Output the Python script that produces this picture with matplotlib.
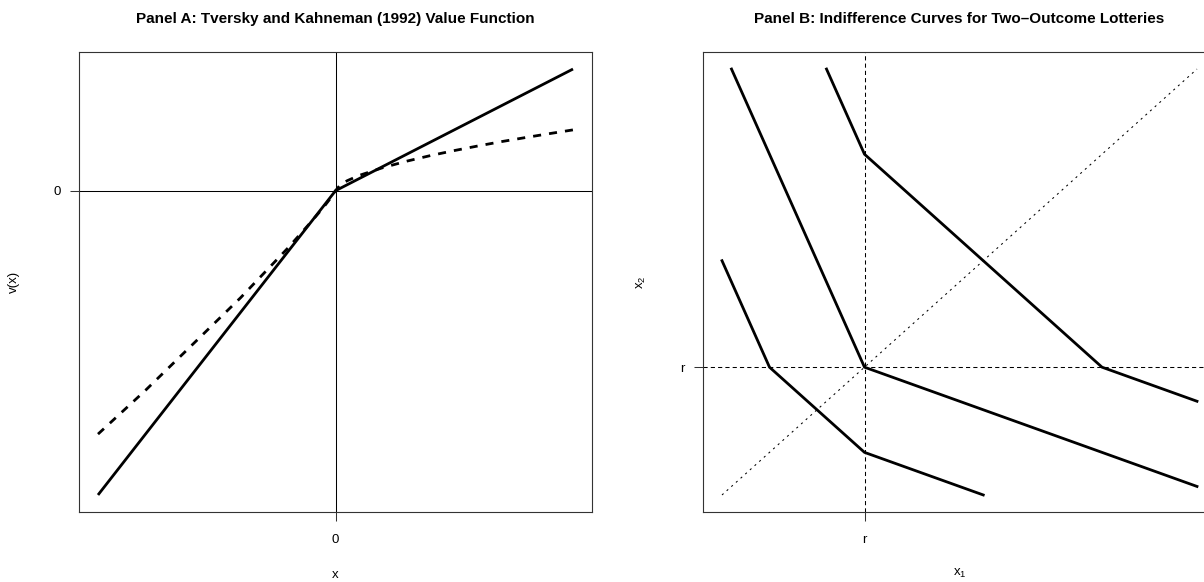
import numpy as np
import matplotlib
matplotlib.use("Agg")
import matplotlib.pyplot as plt

plt.rcParams['font.family'] = ['Liberation Sans', 'DejaVu Sans']
plt.rcParams['mathtext.fontset'] = 'custom'
plt.rcParams['mathtext.rm'] = 'Liberation Sans'
plt.rcParams['mathtext.it'] = 'Liberation Sans'
plt.rcParams['mathtext.default'] = 'regular'

# Panel A: piecewise-linear value function and the curved TK version
lin_x = [-1.0, 0.0, 1.0]
lin_v = [-2.5, 0.0, 1.0]
tk_x = [-1.0, -0.8, -0.6, -0.4, -0.2, -0.1, -0.05, -0.02, 0.0,
        0.02, 0.05, 0.1, 0.2, 0.3, 0.4, 0.5, 0.6, 0.7, 0.8, 0.9, 1.0]
tk_v = [-2.0, -1.64, -1.26, -0.88, -0.47, -0.25, -0.135, -0.059, 0.0,
        0.048, 0.083, 0.126, 0.19, 0.243, 0.289, 0.33, 0.368, 0.404, 0.437, 0.469, 0.5]

# Panel B: indifference curves around reference point r
r = 3.0
curve1_x = [0.0, 1.0, 3.0, 5.5]
curve1_y = [5.5, 3.0, 1.0, 0.0]
curve2_x = [0.2, 3.0, 10.0]
curve2_y = [10.0, 3.0, 0.2]
curve3_x = [2.2, 3.0, 8.0, 10.0]
curve3_y = [10.0, 8.0, 3.0, 2.2]
diag = [0.0, 10.0]

W, H = 1204, 582
fig = plt.figure(figsize=(W / 100, H / 100), dpi=100)

def box(left, top, right, bottom):
    return [left / W, 1 - bottom / H, (right - left) / W, (bottom - top) / H]

axA = fig.add_axes(box(79, 52, 592, 512))
axB = fig.add_axes(box(703, 52, 1216, 512))

def pad_lim(vals, frac=0.04):
    lo, hi = np.min(vals), np.max(vals)
    d = (hi - lo) * frac
    return lo - d, hi + d

FS = 9.5
LW = 2.0

def style(ax):
    for s in ax.spines.values():
        s.set_color('#333333')
        s.set_linewidth(0.8)
    ax.tick_params(direction='out', length=6.5, width=0.75, color='#333333',
                   labelsize=FS, pad=6.5)
    ax.tick_params(axis='x', pad=9)

# ---- Panel A ----
axA.axhline(0, color='black', lw=0.75)
axA.axvline(0, color='black', lw=0.75)
axA.plot(lin_x, lin_v, color='black', lw=LW, solid_capstyle='butt')
axA.plot(tk_x, tk_v, color='black', lw=LW, dashes=(2.9, 2.9))
axA.set_xlim(pad_lim(lin_x + tk_x))
axA.set_ylim(pad_lim(lin_v + tk_v))
axA.set_xticks([0])
axA.set_xticklabels(['0'])
axA.set_yticks([0])
axA.set_yticklabels(['0'])
style(axA)
axA.text(0.5, 1 + (52 - 19) / 460, 'Panel A: Tversky and Kahneman (1992) Value Function',
         transform=axA.transAxes, ha='center', va='center', fontsize=11, fontweight='bold')
axA.text(0.5, (512 - 575) / 460, 'x', transform=axA.transAxes,
         ha='center', va='center', fontsize=FS)
axA.text((14 - 79) / 513, 0.5, 'v(x)', transform=axA.transAxes,
         ha='center', va='center', rotation=90, fontsize=FS)

# ---- Panel B ----
axB.axvline(r, color='black', lw=0.75, dashes=(4, 3))
axB.axhline(r, color='black', lw=0.75, dashes=(4, 3))
axB.plot(diag, diag, color='black', lw=0.75, dashes=(2, 4))
for cx, cy in [(curve1_x, curve1_y), (curve2_x, curve2_y), (curve3_x, curve3_y)]:
    axB.plot(cx, cy, color='black', lw=LW)
axB.set_xlim(pad_lim(diag))
axB.set_ylim(pad_lim(diag))
axB.set_xticks([r])
axB.set_xticklabels(['r'])
axB.set_yticks([r])
axB.set_yticklabels(['r'])
style(axB)
axB.text(0.5, 1 + (52 - 19) / 460, 'Panel B: Indifference Curves for Two\u2013Outcome Lotteries',
         transform=axB.transAxes, ha='center', va='center', fontsize=11, fontweight='bold')
axB.text(0.5, (512 - 573) / 460, '$x_1$', transform=axB.transAxes,
         ha='center', va='center', fontsize=FS)
axB.text((641 - 703) / 513, 0.5, '$x_2$', transform=axB.transAxes,
         ha='center', va='center', rotation=90, fontsize=FS)

fig.savefig('out.png', dpi=100)
